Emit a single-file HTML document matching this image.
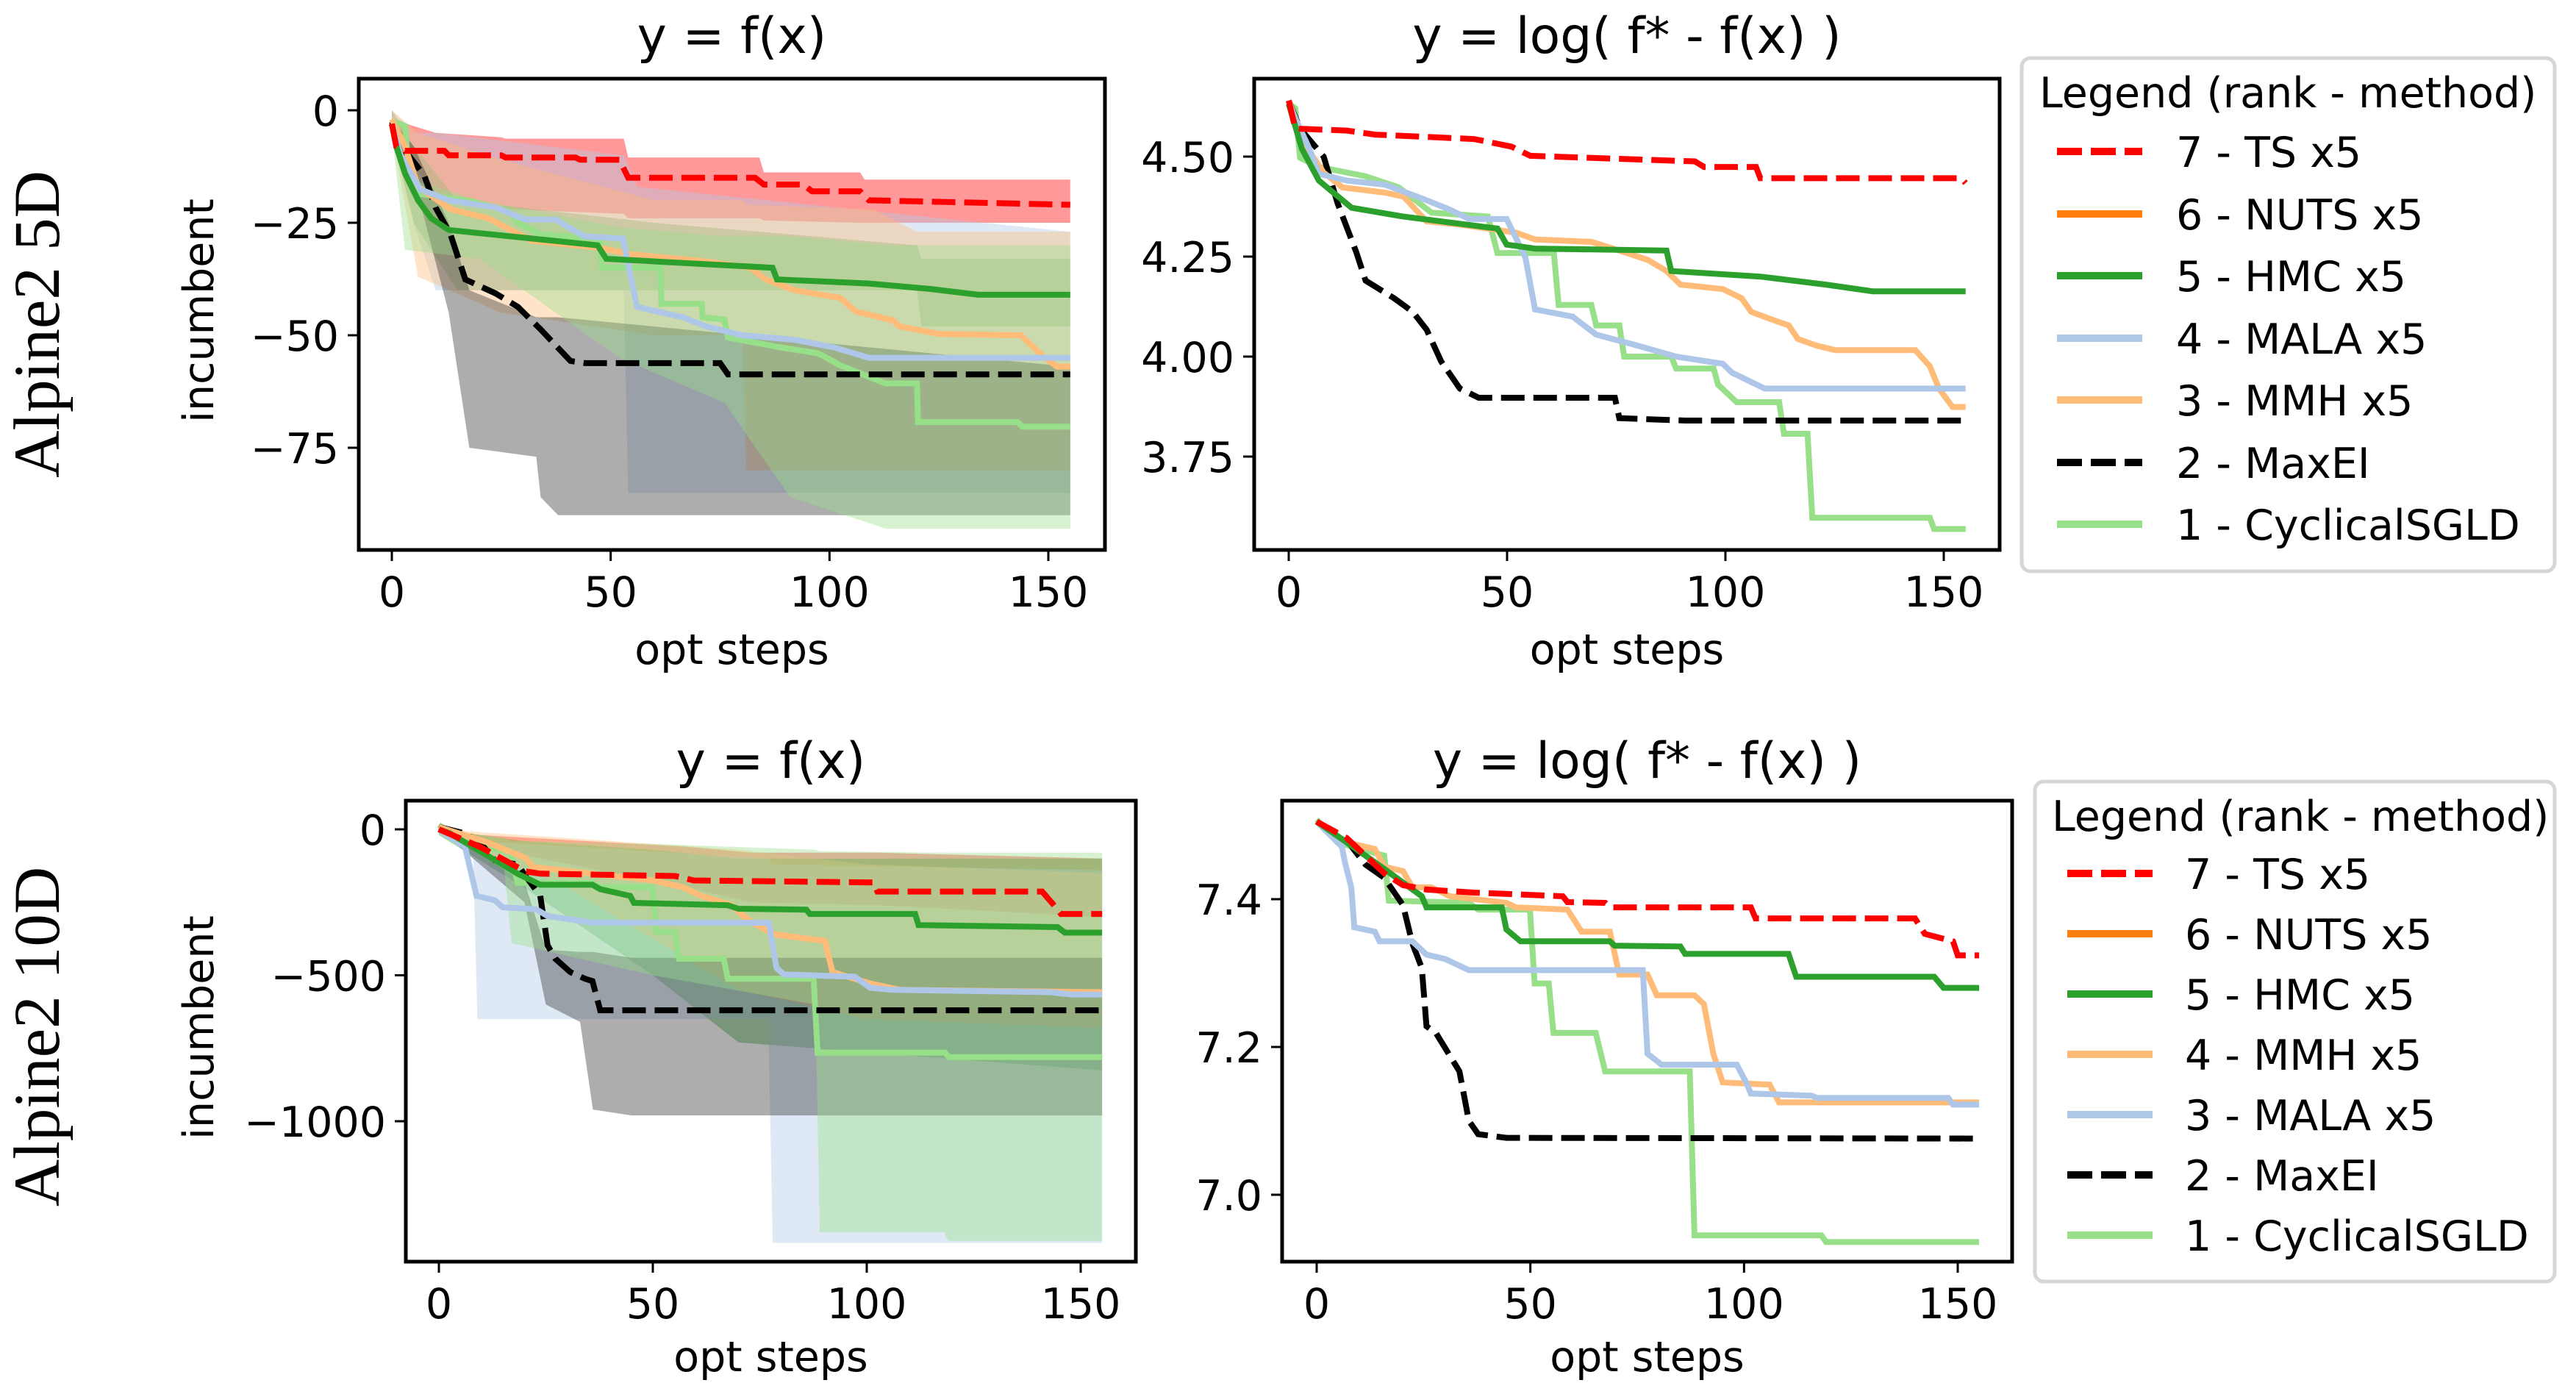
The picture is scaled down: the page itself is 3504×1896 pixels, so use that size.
<!DOCTYPE html>
<html><head><meta charset="utf-8"><style>
html,body{margin:0;padding:0;background:#fff;}
svg{display:block;}
text{font-family:"DejaVu Sans","Liberation Sans",sans-serif;fill:#000;}
</style></head><body>
<svg id="fig" xmlns="http://www.w3.org/2000/svg" width="3504" height="1896" viewBox="0 0 3504 1896">
<rect width="3504" height="1896" fill="#fff"/>
<g id="root"></g>
</svg>
<script>
// ---------- data: top-left (Alpine2 5D, y=f(x)) ----------
const xTicks = [0, 50, 100, 150];
const tlYTicks = [0, -25, -50, -75];
const trYTicks = [4.50, 4.25, 4.00, 3.75];
const blYTicks = [0, -500, -1000];
const brYTicks = [7.0, 7.2, 7.4];
const trYTickLabels = ["4.50", "4.25", "4.00", "3.75"];
const brYTickLabels = ["7.0", "7.2", "7.4"];

const tlTsSteps = [0,1,3,12,13,25,26,42,43,52,54,83,85,94,96,107,109,155];
const tlTsVals = [-3,-8,-9,-9,-10,-10,-10.5,-10.5,-11,-11,-15,-15,-16.5,-16.5,-18,-18,-20,-21];
const tlHmcSteps = [0,1,3,6,9,13,27,47,49,87,88,109,123,134,155];
const tlHmcVals = [-3,-8,-14,-20,-24,-26.6,-28,-30,-33,-35,-37.6,-38.5,-39.7,-41,-41];
const tlMalaSteps = [0,2,6.5,13,23.7,30.5,37.4,44,52.8,56,66.5,71.7,80,92,101,109,155];
const tlMalaVals = [-3,-10,-17.6,-20,-21.6,-24.3,-24.3,-28,-28.5,-43.7,-46,-48,-50,-51,-52.7,-55,-55];
const tlMmhSteps = [0,3,6,13.4,22,32,47.7,54.5,71.7,82,85.4,92,102.5,106,114.5,116,125,143.7,148.8,152,155];
const tlMmhVals = [-2,-8,-17,-22,-24,-29,-30.6,-32,-33.6,-35,-37.6,-40,-41.7,-44.7,-46.7,-48,-49.7,-50,-54.7,-57,-57];
const tlMaxeiSteps = [0,3,7.4,10,13.4,16.8,23.7,28.8,34,40.8,44.2,75,76.8,155];
const tlMaxeiVals = [-2.5,-9,-14.5,-21.6,-27.6,-37.6,-40.7,-43.7,-48.7,-55.7,-56.2,-56.2,-58.7,-58.7];
const tlCycSteps = [0,3,4,6.5,18.5,27,28.8,34,47.7,48,61.4,61.6,70.8,71,76,76.8,88.8,97.4,102.5,112.8,120,120.2,143,144,155];
const tlCycVals = [-2.3,-3.5,-15.6,-18.6,-20.3,-22.6,-25,-27.6,-28.6,-35,-35,-43,-43,-46,-46.5,-50.5,-52.7,-54,-56.7,-60.7,-60.7,-69.3,-69.3,-70.3,-70.3];

const tlTsBandSteps = [0,10,25,26,53,54,84,85,107,108,155];
const tlTsBandUpper = [-2,-5,-6,-6.3,-6.3,-10.5,-10.5,-13.8,-13.8,-15.4,-15.4];
const tlTsBandLower = [-4,-20,-22,-22,-23,-24,-24,-24.5,-25,-25,-25];
const tlHmcBandSteps = [0,5,15,60,120,121,155];
const tlHmcBandUpper = [0,-8,-20,-25,-30,-33,-33];
const tlHmcBandLower = [-5,-25,-40,-40,-40,-48,-48];
const tlMalaBandSteps = [0,5,10,53,54,56,155];
const tlMalaBandUpper = [0,-5,-5,-10,-12,-17,-27];
const tlMalaBandLower = [-5,-25,-40,-40,-85,-85,-85];
const tlMmhBandSteps = [0,6,25,60,80,81,110,120,155];
const tlMmhBandUpper = [0,-5,-11,-20,-20,-21,-22,-27,-27];
const tlMmhBandLower = [-5,-37,-45,-50,-50,-80,-80,-80,-80];
const tlCycBandSteps = [0,3,20,52,76,91,113,155];
const tlCycBandUpper = [-2,-15,-20,-26,-28,-28,-30,-30];
const tlCycBandLower = [-5,-31,-33,-55,-65,-86,-93,-93];
const tlMaxeiBandSteps = [0,5,13,17.7,33,34,38,155];
const tlMaxeiBandUpper = [-2,-8,-25,-40,-46,-46,-46,-57];
const tlMaxeiBandLower = [-5,-15,-45,-75,-77,-86,-90,-90];

// ---------- data: top-right (Alpine2 5D, log) ----------
const trTsSteps = [0,1.5,13.3,19.8,42.4,51,55.3,93,95.1,107,108,154,155];
const trTsVals = [4.64,4.57,4.565,4.555,4.544,4.525,4.502,4.488,4.474,4.474,4.446,4.446,4.434];
const trHmcSteps = [0,3,6.9,14.4,26.3,47.8,49.9,56.4,86.5,87.6,108,123,133.8,155];
const trHmcVals = [4.632,4.52,4.44,4.372,4.35,4.32,4.28,4.27,4.265,4.214,4.20,4.18,4.163,4.163];
const trMalaSteps = [0,4.7,6.9,13.3,22,30.6,37,41.3,49.9,54.2,56.4,65,70.4,80,88.7,99.4,101.5,109,155];
const trMalaVals = [4.632,4.52,4.457,4.44,4.43,4.395,4.367,4.344,4.344,4.248,4.118,4.10,4.055,4.027,4.0,3.982,3.96,3.92,3.92];
const trMmhSteps = [0,3.7,8,12.3,22,26.3,31.6,39.2,52,56.4,69.3,75.7,82.2,86.5,89.7,99.4,103.7,105.9,110,114.5,116.6,121,125.2,143.5,146.8,148.9,152,155];
const trMmhVals = [4.64,4.53,4.46,4.423,4.41,4.40,4.338,4.33,4.31,4.293,4.287,4.265,4.242,4.214,4.18,4.169,4.146,4.112,4.095,4.078,4.044,4.027,4.016,4.016,3.976,3.92,3.874,3.874];
const trMaxeiSteps = [0,2.6,8,11.2,15.5,17.6,24.1,28.4,31.6,34.9,39.2,43.5,74.7,75.7,90.8,155];
const trMaxeiVals = [4.64,4.57,4.50,4.383,4.26,4.19,4.146,4.112,4.067,3.988,3.92,3.897,3.897,3.846,3.84,3.84];
const trCycSteps = [0,1.5,2.6,6.9,17.6,25.2,32.7,45.6,47.8,60.7,61.8,69.3,70.4,75.7,76.8,87.6,88.7,97.3,98.3,102.6,112.3,113.4,118.8,119.9,146.8,147.8,155];
const trCycVals = [4.632,4.621,4.497,4.474,4.451,4.423,4.36,4.35,4.259,4.259,4.129,4.129,4.078,4.078,4.0,4.0,3.97,3.97,3.93,3.886,3.886,3.807,3.807,3.597,3.597,3.569,3.569];

// ---------- data: bottom-left (Alpine2 10D, y=f(x)) ----------
const blTsSteps = [0,9.6,20.2,23.7,55.2,59.6,101.6,102.5,141,143.7,145.4,155];
const blTsVals = [0,-60,-144,-152,-160,-175,-182,-213,-213,-259,-290,-290];
const blHmcSteps = [0,2.6,9.6,18.4,23.7,35.9,37.7,44.7,45.6,67.5,70,85.9,86.7,111.3,112.1,144.6,146.3,155];
const blHmcVals = [0,-14,-75,-152,-190,-190,-205,-228,-252,-260,-272,-275,-290,-290,-328,-335,-354,-354];
const blMalaSteps = [0,6.1,8.8,13.1,14.9,22.8,25.4,35.9,77.1,78.9,80.6,97.2,100.8,106,142.8,148,155];
const blMalaVals = [0,-60,-228,-243,-267,-274,-297,-320,-320,-474,-497,-505,-543,-550,-558,-566,-566];
const blMmhSteps = [0,11.4,20.2,21.9,50,57,61.3,68.3,71.8,78,90.2,92,100.8,107.8,155];
const blMmhVals = [8,-45,-98,-129,-175,-198,-228,-259,-305,-359,-382,-489,-528,-550,-558];
const blMaxeiSteps = [0,6.1,9.6,13.1,18.4,20.2,23.7,25.4,27.2,30.7,34.2,35.9,37.7,155];
const blMaxeiVals = [8,-14,-45,-106,-121,-159,-228,-397,-443,-489,-512,-520,-620,-620];
const blCycSteps = [0,4.4,9.6,16.6,18.4,35.9,37.7,49.9,50.8,55.2,56.1,66.6,67.5,87.6,88.5,118.3,119.2,155];
const blCycVals = [15,-30,-60,-75,-183,-183,-198,-198,-351,-351,-443,-443,-512,-512,-765,-765,-780,-780];

const blTsBandSteps = [0,10,58,73,103,155];
const blTsBandUpper = [0,-20,-60,-80,-80,-100];
const blTsBandLower = [0,-60,-200,-250,-260,-300];
const blHmcBandSteps = [0,20,50,70,155];
const blHmcBandUpper = [0,-40,-70,-100,-100];
const blHmcBandLower = [-20,-200,-500,-730,-826];
const blMalaBandSteps = [0,8,9,77,78,155];
const blMalaBandUpper = [0,-30,-40,-100,-120,-140];
const blMalaBandLower = [0,-100,-650,-650,-1417,-1417];
const blMmhBandSteps = [0,30,70,100,155];
const blMmhBandUpper = [0,-30,-70,-120,-150];
const blMmhBandLower = [-10,-200,-550,-650,-680];
const blCycBandSteps = [0,15,17,50,88,89,118,119,155];
const blCycBandUpper = [0,-30,-40,-50,-70,-75,-80,-80,-80];
const blCycBandLower = [0,-100,-390,-500,-600,-1380,-1380,-1410,-1410];
const blMaxeiBandSteps = [0,20,25,33,36,45,155];
const blMaxeiBandUpper = [0,-180,-412,-420,-420,-440,-440];
const blMaxeiBandLower = [0,-250,-600,-660,-960,-980,-980];

// ---------- data: bottom-right (Alpine2 10D, log) ----------
const brTsSteps = [0,7,15.8,20.2,25.7,36.7,57.6,58.7,67.5,68.6,101.6,102.7,140,142.3,148.9,150,155];
const brTsVals = [7.505,7.483,7.435,7.419,7.413,7.409,7.404,7.396,7.395,7.389,7.389,7.374,7.374,7.353,7.343,7.324,7.324];
const brHmcSteps = [0,7,15.8,24.6,25.7,43.3,44.4,47.7,68.6,69.7,85.1,86.2,110.4,112.2,144.5,146.7,155];
const brHmcVals = [7.505,7.477,7.441,7.404,7.389,7.389,7.359,7.343,7.343,7.337,7.336,7.326,7.326,7.295,7.295,7.28,7.28];
const brMalaSteps = [0,5.9,6.6,8.1,8.8,13.6,14.7,22.4,25.7,30.1,33.4,35.6,76.3,77.4,80.7,98.3,100.5,101.6,115.9,117,147.8,148.9,155];
const brMalaVals = [7.505,7.471,7.45,7.416,7.362,7.356,7.343,7.343,7.325,7.319,7.31,7.304,7.304,7.191,7.176,7.176,7.152,7.137,7.134,7.131,7.131,7.122,7.122];
const brMmhSteps = [0,7,13.6,15.8,20.2,22.4,26.8,31.2,44.4,46.6,58.7,62,68.6,70.8,77.4,79.6,88.4,90.6,92.8,95,106,108.2,155];
const brMmhVals = [7.505,7.477,7.468,7.444,7.438,7.416,7.416,7.404,7.395,7.389,7.386,7.356,7.356,7.298,7.298,7.27,7.27,7.258,7.191,7.152,7.149,7.125,7.125];
const brMaxeiSteps = [0,7,11.4,15.8,20.2,22.4,24.6,25.7,27.9,33.4,35.6,37.8,44.4,155];
const brMaxeiVals = [7.505,7.48,7.447,7.429,7.392,7.34,7.307,7.228,7.219,7.167,7.1,7.082,7.077,7.076];
const brCycSteps = [0,4.8,15.8,16.9,35.6,37.8,49.9,51,54.3,55.4,65.3,67.5,87.3,88.4,118.1,119.2,155];
const brCycVals = [7.508,7.477,7.459,7.398,7.395,7.386,7.386,7.286,7.286,7.219,7.219,7.167,7.167,6.945,6.945,6.936,6.936];

const legendTopLabels = ["7 - TS x5","6 - NUTS x5","5 - HMC x5","4 - MALA x5","3 - MMH x5","2 - MaxEI","1 - CyclicalSGLD"];
const legendBottomLabels = ["7 - TS x5","6 - NUTS x5","5 - HMC x5","4 - MMH x5","3 - MALA x5","2 - MaxEI","1 - CyclicalSGLD"];

// ---------- rendering ----------
const NS = "http://www.w3.org/2000/svg";
const root = document.getElementById('root');
const C = {ts:"#ff0000", nuts:"#ff7f0e", hmc:"#2ca02c", mala:"#aec7e8", mmh:"#ffbb78", maxei:"#000000", cyc:"#98df8a"};
const LW = 8;
const DASH = "32 12";

function mk(tag, attrs, parent){
  const e = document.createElementNS(NS, tag);
  for (const k in attrs) e.setAttribute(k, attrs[k]);
  (parent || root).appendChild(e);
  return e;
}
function txt(s, x, y, size, anchor, parent, extra){
  const t = mk('text', Object.assign({x:x, y:y, 'font-size':size, 'text-anchor':anchor||'middle'}, extra||{}), parent);
  t.textContent = s;
  return t;
}
function axis(box, x0px, x150px, v1, p1, v2, p2){
  return {
    box: box,
    sx: s => x0px + (x150px - x0px) * s / 150,
    sy: v => p1 + (p2 - p1) * (v - v1) / (v2 - v1)
  };
}
function pathFrom(ax, steps, vals){
  let d = '';
  for (let i = 0; i < steps.length; i++) d += (i ? 'L' : 'M') + ax.sx(steps[i]).toFixed(1) + ' ' + ax.sy(vals[i]).toFixed(1);
  return d;
}
function band(ax, g, steps, up, lo, color, name){
  let d = '';
  for (let i = 0; i < steps.length; i++) d += (i ? 'L' : 'M') + ax.sx(steps[i]).toFixed(1) + ' ' + ax.sy(up[i]).toFixed(1);
  for (let i = steps.length - 1; i >= 0; i--) d += 'L' + ax.sx(steps[i]).toFixed(1) + ' ' + ax.sy(lo[i]).toFixed(1);
  d += 'Z';
  const p = mk('path', {d:d, fill:color, 'fill-opacity':0.4, stroke:'none'}, g);
  
  
}
function line(ax, g, steps, vals, color, dashed, name){
  const a = {d:pathFrom(ax, steps, vals), fill:'none', stroke:color, 'stroke-width':LW, 'stroke-linejoin':'miter'};
  if (dashed) a['stroke-dasharray'] = DASH;
  const p = mk('path', a, g);
  
  
}
function frame(ax, g, yTicks, yLabels, title, titleY, tickLabelY, xlabelY, ylabel, ylabelX){
  const [L, R, T, B] = ax.box;
  const clipId = 'c' + Math.round(L) + Math.round(T);
  const cp = mk('clipPath', {id:clipId}, g);
  mk('rect', {x:L, y:T, width:R-L, height:B-T}, cp);
  xTicks.forEach(v => {
    const x = ax.sx(v);
    mk('line', {x1:x, y1:B, x2:x, y2:B+15, stroke:'#000', 'stroke-width':3}, g);
    const t = txt(String(v), x, tickLabelY, 57, 'middle', g);
    
    
  });
  yTicks.forEach((v, i) => {
    const y = ax.sy(v);
    mk('line', {x1:L-15, y1:y, x2:L, y2:y, stroke:'#000', 'stroke-width':3}, g);
    const lab = yLabels ? yLabels[i] : String(v).replace('-', '\u2212');
    const t = txt(lab, L - 27, y + 21, 57, 'end', g);
    
    
  });
  const tt = txt(title, (L+R)/2, titleY, 68, 'middle', g);
  
  
  const xl = txt('opt steps', (L+R)/2, xlabelY, 57, 'middle', g);
  
  
  if (ylabel){
    const yl = txt(ylabel, 0, 0, 57, 'middle', g, {transform:'translate(' + (ylabelX+20) + ',' + ((T+B)/2 - 5) + ') rotate(-90)'});
    
    
  }
  return clipId;
}
function legend(g, x0, y0, x1, y1, titleX, titleY, entryYs, labels, order, sx0, sx1, textX){
  mk('rect', {x:x0, y:y0, width:x1-x0, height:y1-y0, rx:12, fill:'#fff', stroke:'#d6d6d6', 'stroke-width':5}, g);
  const t = txt('Legend (rank - method)', titleX, titleY + 20, 57, 'start', g);
  
  
  labels.forEach((lab, i) => {
    const key = order[i];
    const eg = mk('g', {}, g);
    
    
    const a = {x1:sx0, y1:entryYs[i], x2:sx1, y2:entryYs[i], stroke:C[key], 'stroke-width':LW+2};
    if (key === 'ts' || key === 'maxei') a['stroke-dasharray'] = '34 12';
    mk('line', a, eg);
    txt(lab, textX, entryYs[i] + 21, 57, 'start', eg);
  });
}

function panel(name, ax, bands, lines, frameArgs){
  const g = mk('g', {});
  
  
  const clipId = frame.apply(null, [ax, g].concat(frameArgs));
  const inner = mk('g', {'clip-path':'url(#' + clipId + ')'}, g);
  bands.forEach(b => band(ax, inner, b[0], b[1], b[2], b[3], b[4]));
  lines.forEach(l => line(ax, inner, l[0], l[1], l[2], l[3], l[4]));
  const [L, R, T, B] = ax.box;
  mk('rect', {x:L, y:T, width:R-L, height:B-T, fill:'none', stroke:'#000', 'stroke-width':5}, g);
}

// top-left
const axTL = axis([488,1503,107,748], 533, 1426, 0, 150, -25, 303);
panel('panel-5d-raw', axTL, [
  [tlTsBandSteps, tlTsBandUpper, tlTsBandLower, C.ts, 'band-ts'],
  [tlHmcBandSteps, tlHmcBandUpper, tlHmcBandLower, C.hmc, 'band-hmc'],
  [tlMalaBandSteps, tlMalaBandUpper, tlMalaBandLower, C.mala, 'band-mala'],
  [tlMmhBandSteps, tlMmhBandUpper, tlMmhBandLower, C.mmh, 'band-mmh'],
  [tlMaxeiBandSteps, tlMaxeiBandUpper, tlMaxeiBandLower, '#333333', 'band-maxei'],
  [tlCycBandSteps, tlCycBandUpper, tlCycBandLower, C.cyc, 'band-cyclicalsgld']
], [
  [tlCycSteps, tlCycVals, C.cyc, false, 'line-cyclicalsgld'],
  [tlMaxeiSteps, tlMaxeiVals, C.maxei, true, 'line-maxei'],
  [tlMmhSteps, tlMmhVals, C.mmh, false, 'line-mmh'],
  [tlMalaSteps, tlMalaVals, C.mala, false, 'line-mala'],
  [tlHmcSteps, tlHmcVals, C.hmc, false, 'line-hmc'],
  [tlTsSteps, tlTsVals, C.ts, true, 'line-ts']
], [tlYTicks, null, 'y = f(x)', 72, 825, 903, 'incumbent', 270]);

// top-right
const axTR = axis([1706,2720,107,748], 1753, 2644, 4.50, 213, 3.75, 621);
panel('panel-5d-log', axTR, [], [
  [trCycSteps, trCycVals, C.cyc, false, 'line-cyclicalsgld'],
  [trMaxeiSteps, trMaxeiVals, C.maxei, true, 'line-maxei'],
  [trMmhSteps, trMmhVals, C.mmh, false, 'line-mmh'],
  [trMalaSteps, trMalaVals, C.mala, false, 'line-mala'],
  [trHmcSteps, trHmcVals, C.hmc, false, 'line-hmc'],
  [trTsSteps, trTsVals, C.ts, true, 'line-ts']
], [trYTicks, trYTickLabels, 'y = log( f* - f(x) )', 72, 825, 903, null, 0]);

// bottom-left
const axBL = axis([552,1545,1089,1716], 597, 1470, 0, 1128, -1000, 1525);
panel('panel-10d-raw', axBL, [
  [blTsBandSteps, blTsBandUpper, blTsBandLower, C.ts, 'band-ts'],
  [blHmcBandSteps, blHmcBandUpper, blHmcBandLower, C.hmc, 'band-hmc'],
  [blMalaBandSteps, blMalaBandUpper, blMalaBandLower, C.mala, 'band-mala'],
  [blMmhBandSteps, blMmhBandUpper, blMmhBandLower, C.mmh, 'band-mmh'],
  [blMaxeiBandSteps, blMaxeiBandUpper, blMaxeiBandLower, '#333333', 'band-maxei'],
  [blCycBandSteps, blCycBandUpper, blCycBandLower, C.cyc, 'band-cyclicalsgld']
], [
  [blCycSteps, blCycVals, C.cyc, false, 'line-cyclicalsgld'],
  [blMaxeiSteps, blMaxeiVals, C.maxei, true, 'line-maxei'],
  [blMmhSteps, blMmhVals, C.mmh, false, 'line-mmh'],
  [blMalaSteps, blMalaVals, C.mala, false, 'line-mala'],
  [blHmcSteps, blHmcVals, C.hmc, false, 'line-hmc'],
  [blTsSteps, blTsVals, C.ts, true, 'line-ts']
], [blYTicks, null, 'y = f(x)', 1058, 1793, 1865, 'incumbent', 270]);

// bottom-right
const axBR = axis([1744,2737,1089,1716], 1791, 2663, 7.4, 1223, 7.0, 1625);
panel('panel-10d-log', axBR, [], [
  [brCycSteps, brCycVals, C.cyc, false, 'line-cyclicalsgld'],
  [brMaxeiSteps, brMaxeiVals, C.maxei, true, 'line-maxei'],
  [brMmhSteps, brMmhVals, C.mmh, false, 'line-mmh'],
  [brMalaSteps, brMalaVals, C.mala, false, 'line-mala'],
  [brHmcSteps, brHmcVals, C.hmc, false, 'line-hmc'],
  [brTsSteps, brTsVals, C.ts, true, 'line-ts']
], [brYTicks, brYTickLabels, 'y = log( f* - f(x) )', 1058, 1793, 1865, null, 0]);

// legends
const lg1 = mk('g', {});


legend(lg1, 2750, 79, 3475, 777, 2774, 126, [206,291,375,460,544,629,713], legendTopLabels,
  ['ts','nuts','hmc','mala','mmh','maxei','cyc'], 2798, 2914, 2960);
const lg2 = mk('g', {});


legend(lg2, 2768, 1063, 3475, 1743, 2791, 1110, [1188,1270,1352,1434,1516,1598,1680], legendBottomLabels,
  ['ts','nuts','hmc','mmh','mala','maxei','cyc'], 2812, 2928, 2972);

// row labels
const r1 = txt('Alpine2 5D', 0, 0, 89, 'middle', root, {transform:'translate(80,441) rotate(-90)', style:'font-family:"Liberation Serif","DejaVu Serif",serif'});


const r2 = txt('Alpine2 10D', 0, 0, 89, 'middle', root, {transform:'translate(80,1410) rotate(-90)', style:'font-family:"Liberation Serif","DejaVu Serif",serif'});


</script>
</body></html>
